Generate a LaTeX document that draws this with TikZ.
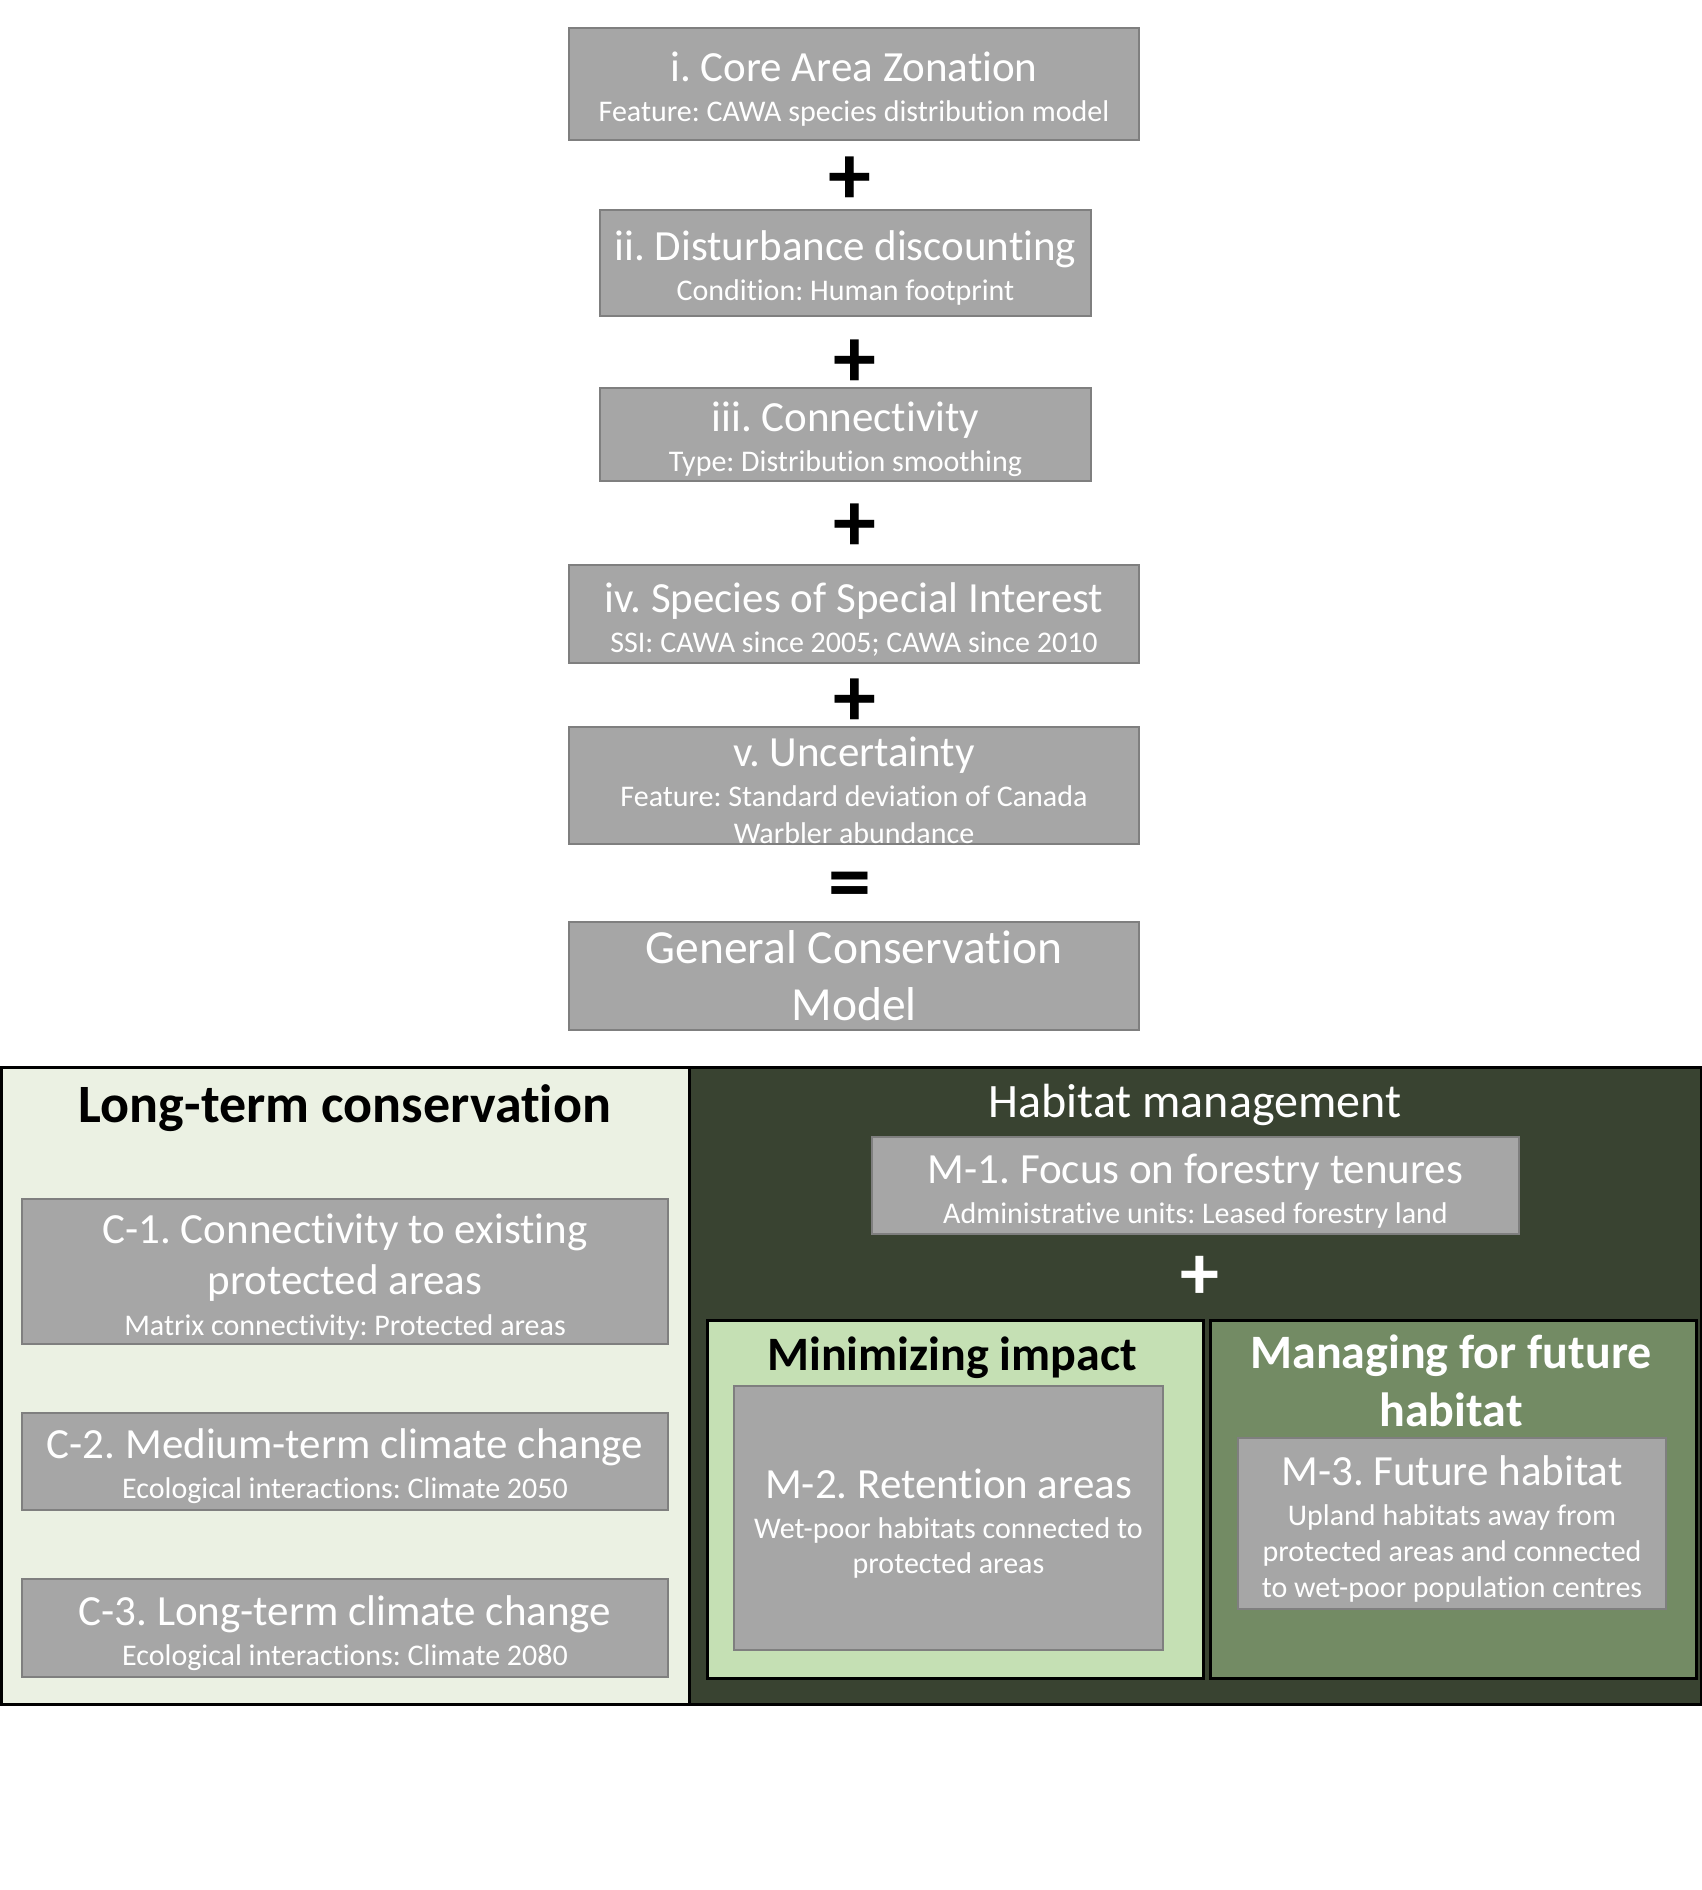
\documentclass[tikz,border=0pt]{standalone}
\usepackage{fontspec}
\setmainfont{Carlito}[Ligatures={NoCommon}]
\frenchspacing
\definecolor{boxgrey}{HTML}{A6A6A6}
\definecolor{boxline}{HTML}{7F7F7F}
\definecolor{ltgreen}{HTML}{EBF1E3}
\definecolor{dkgreen}{HTML}{394331}
\definecolor{mdgreen}{HTML}{C5E0B4}
\definecolor{olgreen}{HTML}{738B64}
\newcommand\TitleF{\fontsize{43}{0}\selectfont\rule{0pt}{40pt}}
\newcommand\SubF{\fontsize{30}{0}\selectfont}
\newcommand\BigF{\fontsize{47.5}{0}\selectfont}
\newcommand\HeadF{\fontsize{48}{0}\selectfont\bfseries}
\newcommand\SignF{\fontsize{86}{0}\selectfont\bfseries}
\newcommand\TightLines{\lineskiplimit=-1000pt\relax}
\tikzset{
  gbox/.style={draw=boxline, fill=boxgrey, line width=1.5pt, text=white, align=center, inner sep=0pt, font=\SubF\TightLines\frenchspacing},
  panel/.style={draw=black, line width=3pt, inner sep=0pt, anchor=north west},
  sign/.style={font=\SignF, inner sep=0pt},
  head/.style={align=center, inner sep=0pt},
}
\begin{document}
\begin{tikzpicture}[x=1pt,y=-1pt]
\useasboundingbox (0,0) rectangle (1701,1890);
% top chain
\node[gbox, minimum width=570, minimum height=112] (b1) at (854,84)
  {{\TitleF i. Core Area Zonation}\\[40pt]Feature: CAWA species distribution model};
\node[sign] (p1) at (850,181) {+};
\node[gbox, minimum width=491, minimum height=106] (b2) at (845.5,263)
  {{\TitleF ii. Disturbance discounting}\\[40pt]Condition: Human footprint};
\node[sign] (p2) at (855,364) {+};
\node[gbox, minimum width=491, minimum height=93] (b3) at (845.5,434.5)
  {{\TitleF iii. Connectivity}\\[40pt]Type: Distribution smoothing};
\node[sign] (p3) at (855,528) {+};
\node[gbox, minimum width=570, minimum height=98] (b4) at (854,614)
  {{\TitleF iv. Species of Special Interest}\\[40pt]SSI: CAWA since 2005; CAWA since 2010};
\node[sign] (p4) at (855,703) {+};
\node[gbox, minimum width=570, minimum height=111] (b5) at (854,785.5)
  {{\TitleF v. Uncertainty}\\[40pt]Feature: Standard deviation of Canada\\[37pt]Warbler abundance};
\node[sign] (eq) at (850,891) {=};
\node[gbox, minimum width=570, minimum height=108] (gcm) at (854,976)
  {{\BigF General Conservation}\\[57pt]{\BigF Model}};
% panels
\node[panel, fill=ltgreen, minimum width=688, minimum height=637] (lt) at (0,1066) {};
\node[panel, fill=dkgreen, minimum width=1012, minimum height=637] (hm) at (688,1066) {};
\node[head, font=\fontsize{54}{0}\selectfont\bfseries] (ltt) at (345,1108) {Long-term conservation};
\node[head, text=white, font=\fontsize{48}{0}\selectfont] (hmt) at (1195,1105) {Habitat management};
% long-term boxes
\node[gbox, minimum width=646, minimum height=145] (c1) at (345,1271.5)
  {{\TitleF C-1. Connectivity to existing}\\[51pt]{\TitleF protected areas}\\[41pt]Matrix connectivity: Protected areas};
\node[gbox, minimum width=646, minimum height=97] (c2) at (345,1461.5)
  {{\TitleF C-2. Medium-term climate change}\\[40pt]Ecological interactions: Climate 2050};
\node[gbox, minimum width=646, minimum height=98] (c3) at (345,1628)
  {{\TitleF C-3. Long-term climate change}\\[40pt]Ecological interactions: Climate 2080};
% habitat management
\node[gbox, minimum width=647, minimum height=97] (m1) at (1195.5,1185.5)
  {{\TitleF M-1. Focus on forestry tenures}\\[40pt]Administrative units: Leased forestry land};
\node[sign, text=white, font=\fontsize{78}{0}\selectfont\bfseries] (p5) at (1200,1278) {+};
\node[panel, fill=mdgreen, minimum width=496, minimum height=358] (mi) at (706,1319) {};
\node[panel, fill=olgreen, minimum width=486, minimum height=358] (mf) at (1209,1319) {};
\node[head, font=\HeadF] (mit) at (952,1358) {Minimizing impact};
\node[head, text=white, font=\HeadF\TightLines] (mft) at (1451,1381) {Managing for future\\[58pt]habitat};
\node[gbox, minimum width=429, minimum height=264] (m2) at (948.5,1518)
  {{\TitleF M-2. Retention areas}\\[40pt]Wet-poor habitats connected to\\[35pt]protected areas};
\node[gbox, minimum width=428, minimum height=171] (m3) at (1452,1523.5)
  {{\TitleF M-3. Future habitat}\\[40pt]Upland habitats away from\\[36pt]protected areas and connected\\[36pt]to wet-poor population centres};
\end{tikzpicture}
\end{document}
